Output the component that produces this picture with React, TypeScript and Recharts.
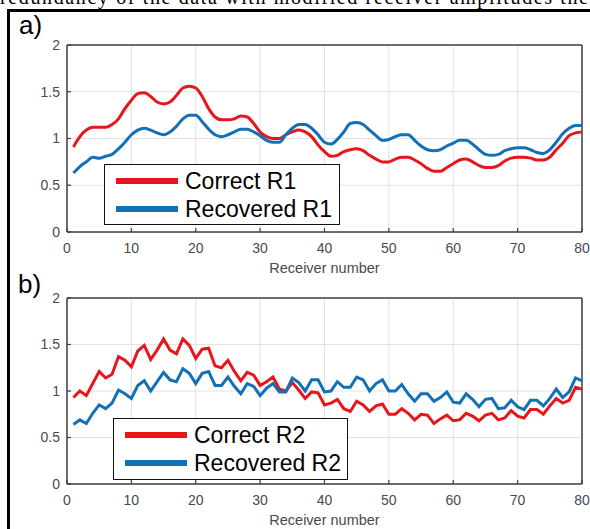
import { LineChart, Line, XAxis, YAxis, CartesianGrid, Legend, ReferenceLine } from "recharts";

const receivers = [
  1, 2, 3, 4, 5, 6, 7, 8, 9, 10, 11, 12, 13, 14, 15, 16, 17, 18, 19, 20,
  21, 22, 23, 24, 25, 26, 27, 28, 29, 30, 31, 32, 33, 34, 35, 36, 37, 38, 39, 40,
  41, 42, 43, 44, 45, 46, 47, 48, 49, 50, 51, 52, 53, 54, 55, 56, 57, 58, 59, 60,
  61, 62, 63, 64, 65, 66, 67, 68, 69, 70, 71, 72, 73, 74, 75, 76, 77, 78, 79, 80,
];

// panel a) - smoothed amplitudes
const correctR1 = [
  0.91, 1.02, 1.09, 1.12, 1.12, 1.12, 1.15, 1.21, 1.32, 1.41,
  1.48, 1.49, 1.45, 1.39, 1.37, 1.39, 1.46, 1.54, 1.56, 1.54,
  1.45, 1.32, 1.23, 1.2, 1.2, 1.21, 1.24, 1.23, 1.16, 1.07,
  1.02, 1.0, 1.0, 1.04, 1.07, 1.09, 1.07, 1.02, 0.93, 0.86,
  0.81, 0.82, 0.86, 0.88, 0.89, 0.87, 0.82, 0.78, 0.75, 0.75,
  0.78, 0.8, 0.8, 0.77, 0.73, 0.68, 0.65, 0.65, 0.69, 0.73,
  0.77, 0.78, 0.75, 0.71, 0.69, 0.69, 0.71, 0.76, 0.79, 0.8,
  0.8, 0.79, 0.77, 0.77, 0.8, 0.88, 0.95, 1.03, 1.06, 1.07,
];
const recoveredR1 = [
  0.63, 0.7, 0.75, 0.8, 0.79, 0.81, 0.83, 0.89, 0.96, 1.04,
  1.09, 1.11, 1.09, 1.06, 1.04, 1.07, 1.13, 1.21, 1.25, 1.25,
  1.18, 1.1, 1.04, 1.02, 1.04, 1.07, 1.1, 1.1, 1.07, 1.03,
  0.98, 0.96, 0.96, 1.04, 1.11, 1.15, 1.15, 1.11, 1.04, 0.96,
  0.94, 0.99, 1.07, 1.16, 1.17, 1.15, 1.09, 1.03, 0.98, 0.99,
  1.02, 1.04, 1.04, 0.98, 0.92, 0.88, 0.87, 0.88, 0.92, 0.95,
  0.98, 0.98, 0.94, 0.88, 0.83, 0.82, 0.83, 0.87, 0.89, 0.9,
  0.9, 0.88, 0.85, 0.84, 0.88, 0.96, 1.05, 1.11, 1.14, 1.14,
];

// panel b) - raw amplitudes
const correctR2 = [
  0.93, 1.0, 0.95, 1.08, 1.21, 1.14, 1.18, 1.37, 1.33, 1.26,
  1.43, 1.49, 1.34, 1.44, 1.56, 1.44, 1.4, 1.56, 1.49, 1.35,
  1.45, 1.46, 1.27, 1.25, 1.33, 1.21, 1.11, 1.2, 1.17, 1.06,
  1.1, 1.15, 1.02, 1.0, 1.09, 1.01, 0.92, 0.99, 0.98, 0.85,
  0.87, 0.91, 0.81, 0.78, 0.89, 0.85, 0.78, 0.84, 0.86, 0.75,
  0.75, 0.81, 0.76, 0.69, 0.75, 0.74, 0.65, 0.7, 0.74, 0.68,
  0.69, 0.76, 0.73, 0.68, 0.74, 0.76, 0.69, 0.71, 0.79, 0.73,
  0.71, 0.8, 0.8, 0.75, 0.84, 0.92, 0.87, 0.9, 1.04, 1.02,
];
const recoveredR2 = [
  0.64, 0.69, 0.65, 0.76, 0.85, 0.81, 0.87, 1.01, 0.97, 0.92,
  1.06, 1.11, 1.0, 1.1, 1.2, 1.12, 1.1, 1.24, 1.19, 1.08,
  1.19, 1.21, 1.06, 1.06, 1.15, 1.05, 0.97, 1.08, 1.05, 0.95,
  1.03, 1.08, 0.99, 0.99, 1.14, 1.09, 1.0, 1.12, 1.12, 0.99,
  1.0, 1.1, 1.04, 1.04, 1.15, 1.12, 1.0, 1.08, 1.12, 1.0,
  1.0, 1.07, 0.97, 0.89, 0.97, 0.97, 0.89, 0.93, 0.99, 0.88,
  0.87, 0.97, 0.91, 0.83, 0.91, 0.92, 0.81, 0.82, 0.9, 0.83,
  0.8, 0.9, 0.9, 0.84, 0.92, 1.02, 0.93, 0.99, 1.14, 1.11,
];

const xTicks = [0, 10, 20, 30, 40, 50, 60, 70, 80];
const yTicks = [0, 0.5, 1, 1.5, 2];

const font = '"Liberation Sans", Arial, sans-serif';
const RED = "#e8151b";
const BLUE = "#1170b6";
const AXIS = "#404040";
const TICK = "#4a4a4a";

const LegendBox = (props: any) => {
  const { payload } = props;
  return (
    <div
      style={{
        width: "100%",
        height: "100%",
        boxSizing: "border-box",
        border: "1.5px solid #111",
        background: "#fff",
        position: "relative",
        fontFamily: font,
      }}
    >
      {(payload || []).map((p: any, i: number) => (
        <div
          key={p.value}
          style={{
            position: "absolute",
            left: 0,
            top: 2 + i * 28,
            height: 28,
            display: "flex",
            alignItems: "center",
            whiteSpace: "nowrap",
          }}
        >
          <div style={{ marginLeft: 11, width: 62, height: 6, background: p.color }} />
          <span style={{ marginLeft: 7, fontSize: 23, lineHeight: "28px", color: "#000" }}>{p.value}</span>
        </div>
      ))}
    </div>
  );
};

const Panel = ({ top, height, marginTop, marginBottom, correct, recovered, names, legendPos }: any) => {
  const data = receivers.map((r, i) => ({ r, correct: correct[i], recovered: recovered[i] }));
  return (
    <div style={{ position: "absolute", left: 0, top }}>
      <LineChart
        width={590}
        height={height}
        data={data}
        margin={{ top: marginTop, right: 8, left: 27, bottom: marginBottom }}
      >
        <CartesianGrid stroke="#e2e2e2" strokeWidth={1} />
        <XAxis
          dataKey="r"
          type="number"
          domain={[0, 80]}
          ticks={xTicks}
          interval={0}
          tickLine={{ stroke: AXIS, strokeWidth: 1.2 }}
          tickSize={-4}
          tickMargin={15}
          height={41}
          axisLine={{ stroke: AXIS, strokeWidth: 1.5 }}
          tick={{ fill: TICK, fontSize: 14, fontFamily: font }}
          label={{ value: "Receiver number", position: "insideBottom", offset: 0, fill: TICK, fontSize: 14.5, fontFamily: font }}
        />
        <YAxis
          type="number"
          domain={[0, 2]}
          ticks={yTicks}
          interval={0}
          width={40}
          tickLine={{ stroke: AXIS, strokeWidth: 1.2 }}
          tickSize={-4}
          tickMargin={11}
          axisLine={{ stroke: AXIS, strokeWidth: 1.5 }}
          tick={{ fill: TICK, fontSize: 14, fontFamily: font }}
        />
        <ReferenceLine y={2} stroke={AXIS} strokeWidth={1.5} />
        <ReferenceLine x={80} stroke={AXIS} strokeWidth={1.5} />
        <Legend
          layout="vertical"
          align="center"
          verticalAlign="middle"
          content={LegendBox}
          wrapperStyle={legendPos}
        />
        <Line
          type={names[2]}
          dataKey="correct"
          name={names[0]}
          stroke={RED}
          strokeWidth={3}
          dot={false}
          isAnimationActive={false}
        />
        <Line
          type={names[2]}
          dataKey="recovered"
          name={names[1]}
          stroke={BLUE}
          strokeWidth={3}
          dot={false}
          isAnimationActive={false}
        />
      </LineChart>
    </div>
  );
};

export default function App() {
  return (
    <div
      style={{
        position: "absolute",
        left: 0,
        top: 0,
        width: 590,
        height: 529,
        overflow: "hidden",
        background: "#fff",
      }}
    >
      <Panel
        top={0}
        height={290}
        marginTop={45}
        marginBottom={17}
        correct={correctR1}
        recovered={recoveredR1}
        names={["Correct R1", "Recovered R1", "monotone"]}
        legendPos={{ left: 104, top: 164, width: 236, height: 61 }}
      />
      <Panel
        top={250}
        height={279}
        marginTop={48}
        marginBottom={4}
        correct={correctR2}
        recovered={recoveredR2}
        names={["Correct R2", "Recovered R2", "linear"]}
        legendPos={{ left: 113, top: 168, width: 235, height: 62 }}
      />
      <svg width={590} height={529} style={{ position: "absolute", left: 0, top: 0, pointerEvents: "none" }}>
        <text x={0} y={4} fontFamily='"Liberation Serif", "Times New Roman", serif' fontSize={20} textLength={588} lengthAdjust="spacing">
          redundancy of the data with modified receiver amplitudes the
        </text>
        <text x={19} y={34} fontFamily={font} fontSize={26} fill="#000">a)</text>
        <text x={18} y={293} fontFamily={font} fontSize={26} fill="#000">b)</text>
      </svg>
      <div
        style={{
          position: "absolute",
          left: 7,
          top: 9,
          width: 620,
          height: 560,
          borderLeft: "3px solid #000",
          borderTop: "3px solid #000",
          pointerEvents: "none",
        }}
      />
    </div>
  );
}
